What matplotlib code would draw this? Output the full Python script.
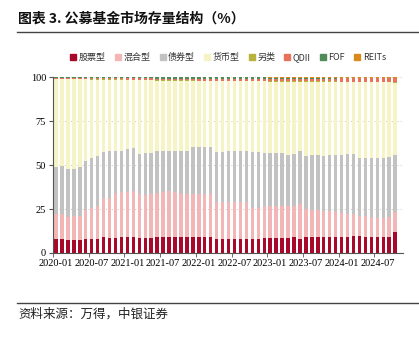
import numpy as np
import pandas as pd
import matplotlib
matplotlib.use('Agg')
import matplotlib.pyplot as plt
from matplotlib.lines import Line2D

plt.rcParams['font.family'] = ['Noto Sans CJK SC', 'DejaVu Sans']

months = pd.period_range('2020-01', '2024-10', freq='M').strftime('%Y-%m').tolist()

stock = [7.7, 7.7, 7.3, 7.3, 7.3, 7.7, 7.7, 7.7, 8.9, 8.5, 8.5, 8.9,
         9.0, 9.2, 8.5, 8.5, 8.5, 8.9, 8.9, 8.9, 8.9, 8.9, 8.9, 8.9,
         8.9, 8.9, 8.9, 8.1, 8.1, 8.1, 8.1, 8.1, 8.1, 7.7, 7.7, 8.5,
         8.5, 8.5, 8.5, 8.5, 8.9, 8.1, 8.9, 8.9, 9.2, 9.2, 9.2, 9.2,
         9.2, 9.2, 9.6, 9.6, 8.9, 8.9, 8.9, 8.9, 8.9, 11.9]
mixed = [14.3, 14.7, 13.2, 13.8, 14.0, 17.0, 18.1, 18.9, 22.2, 22.9, 24.8, 25.6,
         25.8, 26.0, 24.8, 24.4, 24.8, 25.2, 25.6, 26.3, 25.9, 24.6, 24.4, 24.4,
         24.4, 24.4, 24.4, 21.1, 21.1, 21.1, 21.1, 21.1, 20.7, 18.1, 18.1, 18.4,
         18.4, 18.4, 18.4, 18.4, 18.0, 20.0, 16.1, 15.8, 15.1, 14.7, 14.7, 14.3,
         13.6, 13.2, 12.8, 11.7, 12.4, 11.3, 10.9, 10.9, 11.3, 11.3]
bond = [26.8, 26.8, 27.0, 26.6, 27.5, 27.8, 28.2, 28.6, 26.3, 26.4, 24.9, 23.7,
        24.2, 24.5, 22.7, 23.8, 23.4, 23.7, 23.7, 23.0, 23.4, 24.7, 24.9, 26.8,
        26.8, 26.8, 27.2, 28.1, 28.4, 29.0, 29.0, 29.0, 29.4, 31.5, 31.8, 29.7,
        30.0, 30.0, 30.0, 28.7, 29.4, 29.7, 30.4, 30.9, 31.3, 31.5, 31.7, 32.1,
        32.8, 33.7, 33.7, 32.7, 32.7, 33.8, 34.2, 34.2, 34.2, 32.4]
money = [49.9, 49.5, 51.2, 51.0, 49.9, 46.2, 44.5, 43.3, 41.1, 40.7, 40.3, 40.3,
         39.1, 38.4, 42.1, 41.4, 41.4, 40.2, 39.8, 39.8, 39.8, 39.8, 39.8, 37.9,
         37.4, 37.4, 37.0, 40.2, 39.9, 39.3, 39.3, 39.3, 39.3, 40.2, 39.9, 40.9,
         40.5, 40.5, 40.5, 41.8, 41.1, 39.6, 42.0, 41.8, 41.8, 42.0, 41.8, 41.8,
         41.7, 41.2, 41.2, 43.3, 43.3, 43.3, 43.3, 43.3, 42.9, 41.3]
alt = [0.2] * 24 + [0.1] * 34
qdii = [0.8] * 12 + [0.9] * 12 + [1.3] * 12 + [1.5] * 12 + [1.8] * 9 + [2.2]
fof = [0.3] * 6 + [0.5] * 6 + [0.8] * 12 + [0.9] * 12 + [0.7] * 12 + [0.5] * 10
reits = [0.0] * 17 + [0.1] * 7 + [0.2] * 12 + [0.3] * 22

names = ['股票型', '混合型', '债券型', '货币型', '另类', 'QDII', 'FOF', 'REITs']
colors = ['#A8092A', '#F2B6B6', '#C2C2C2', '#F6F4C4', '#B6B23C', '#E8735A', '#4F8C5A', '#D98A1C']
series = [stock, mixed, bond, money, alt, qdii, fof, reits]

fig = plt.figure(figsize=(4.19, 3.38), dpi=100)
ax = fig.add_axes([0.1265, 0.2515, 0.835, 0.5205])

x = np.arange(len(months))
bottom = np.zeros(len(months))
for vals, c in zip(series, colors):
    ax.bar(x, vals, width=0.58, bottom=bottom, color=c, linewidth=0)
    bottom += np.array(vals)

ax.set_ylim(0, 100)
ax.set_xlim(-0.5, 58.3)
ax.set_yticks([0, 25, 50, 75, 100])
ax.yaxis.grid(True, linestyle=(0, (1, 2)), color='#C8C8C8', linewidth=0.7)
ax.set_axisbelow(True)

lab_idx = list(range(0, len(months), 6))
ax.set_xticks(lab_idx)
ax.set_xticklabels([months[i] for i in lab_idx], family='Liberation Serif', fontsize=7.5)
ax.set_xticks([i - 0.5 for i in lab_idx], minor=True)
ax.tick_params(axis='x', which='major', length=0, pad=4)
ax.tick_params(axis='x', which='minor', length=3, color='#555555')
ax.tick_params(axis='y', length=3, color='#555555', pad=2)
for t in ax.get_yticklabels():
    t.set_family('Liberation Serif')
    t.set_fontsize(7.5)

for s in ['top', 'right']:
    ax.spines[s].set_visible(False)
for s in ['left', 'bottom']:
    ax.spines[s].set_color('#555555')
    ax.spines[s].set_linewidth(0.8)

handles = [Line2D([], [], marker='s', linestyle='', markersize=4, color=c) for c in colors]
fig.legend(handles, names, loc='center', bbox_to_anchor=(0.545, 0.831), ncol=8, frameon=False,
           fontsize=6.5, handlelength=0.6, handletextpad=0.3, columnspacing=1.05, labelcolor='#333333')

fig.text(0.043, 0.944, '图表 3. 公募基金市场存量结构（%）', fontsize=10, fontweight='bold',
         va='center', ha='left', color='#111111')
fig.add_artist(Line2D([0.04, 1.0], [0.905, 0.905], color='#444444', linewidth=1.0))
fig.add_artist(Line2D([0.04, 1.0], [0.104, 0.104], color='#444444', linewidth=1.0))
fig.text(0.045, 0.071, '资料来源：万得，中银证券', fontsize=9, style='italic',
         va='center', ha='left', color='#222222')

fig.savefig('out.png', dpi=100)
